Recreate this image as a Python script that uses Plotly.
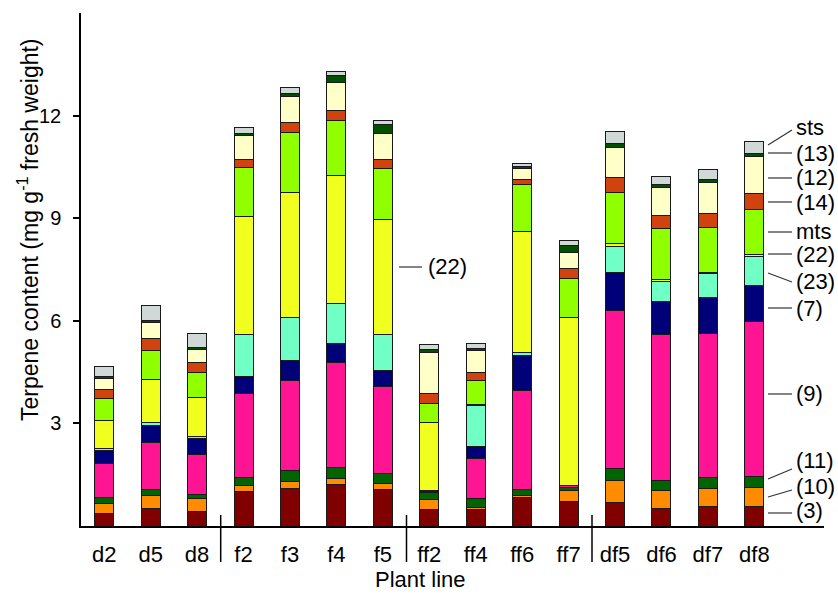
import plotly.graph_objects as go

# ---------------- data ----------------
plant_lines = ["d2", "d5", "d8", "f2", "f3", "f4", "f5",
               "ff2", "ff4", "ff6", "ff7", "df5", "df6", "df7", "df8"]

# Terpene content (mg g-1 fresh weight), stacked bottom -> top
c3  = [0.37, 0.51, 0.43, 1.02, 1.11, 1.20, 1.07, 0.49, 0.47, 0.84, 0.71, 0.68, 0.52, 0.56, 0.56]
c10 = [0.29, 0.39, 0.37, 0.17, 0.19, 0.19, 0.17, 0.29, 0.06, 0.05, 0.33, 0.64, 0.53, 0.54, 0.56]
c11 = [0.18, 0.17, 0.13, 0.24, 0.31, 0.32, 0.30, 0.20, 0.28, 0.18, 0.10, 0.36, 0.29, 0.31, 0.34]
c9  = [0.98, 1.37, 1.16, 2.44, 2.64, 3.07, 2.55, 0.02, 1.17, 2.88, 0.04, 4.61, 4.26, 4.22, 4.53]
c7  = [0.40, 0.51, 0.46, 0.50, 0.59, 0.55, 0.46, 0.04, 0.34, 1.03, 0.01, 1.12, 0.96, 1.05, 1.05]
c23 = [0.04, 0.08, 0.07, 1.22, 1.25, 1.18, 1.05, 0.00, 1.21, 0.09, 0.00, 0.76, 0.60, 0.70, 0.85]
c22 = [0.83, 1.26, 1.14, 3.45, 3.66, 3.73, 3.35, 2.00, 0.02, 3.55, 4.90, 0.08, 0.06, 0.03, 0.06]
mts = [0.63, 0.84, 0.72, 1.43, 1.77, 1.63, 1.49, 0.54, 0.70, 1.36, 1.16, 1.49, 1.49, 1.32, 1.31]
c14 = [0.27, 0.35, 0.30, 0.24, 0.27, 0.28, 0.27, 0.29, 0.23, 0.16, 0.27, 0.44, 0.37, 0.42, 0.45]
c12 = [0.31, 0.47, 0.38, 0.70, 0.76, 0.81, 0.76, 1.20, 0.65, 0.31, 0.47, 0.88, 0.81, 0.89, 1.09]
c13 = [0.08, 0.06, 0.07, 0.07, 0.09, 0.21, 0.27, 0.09, 0.06, 0.06, 0.22, 0.11, 0.09, 0.08, 0.10]
sts = [0.27, 0.44, 0.39, 0.16, 0.18, 0.11, 0.13, 0.15, 0.14, 0.10, 0.13, 0.37, 0.23, 0.31, 0.33]

series_names = ["(3)", "(10)", "(11)", "(9)", "(7)", "(23)", "(22)", "mts", "(14)", "(12)", "(13)", "sts"]
series_values = [c3, c10, c11, c9, c7, c23, c22, mts, c14, c12, c13, sts]
series_colors = ["#800000", "#FF8C00", "#006400", "#FF1493", "#000078", "#70FFC4",
                 "#F0FF1E", "#90FF00", "#D0420E", "#FFFFC8", "#005000", "#D0D8D8"]

y_ticks = [3, 6, 9, 12]

FONT = "Liberation Sans, Arial, Helvetica, sans-serif"

fig = go.Figure()
for name, vals, col in zip(series_names, series_values, series_colors):
    fig.add_trace(go.Bar(
        x=plant_lines, y=vals, name=name, width=0.41,
        marker=dict(color=col, line=dict(color="#1a1a1a", width=1)),
    ))

# plot area in pixels: left 81, right 824, top 13, bottom 526
L, R, T, B = 81, 824, 13, 526
W, H = R - L, B - T


def px(xp):
    return (xp - L) / W


def py(yp):
    return (B - yp) / H


shapes = []
# group separators below axis
for xs in [220.7, 406.5, 592]:
    shapes.append(dict(type="line", xref="paper", yref="paper",
                       x0=px(xs), x1=px(xs), y0=py(515), y1=py(562),
                       line=dict(color="black", width=1.5)))

# right-hand label leader lines (px coords) and labels
labels = [
    ("sts", (768, 145), (792, 130), 127),
    ("(13)", (768, 153), (792, 153), 153),
    ("(12)", (768, 178), (792, 178), 177),
    ("(14)", (768, 202), (792, 202), 202),
    ("mts", (768, 232), (792, 232), 231),
    ("(22)", (768, 254), (792, 254), 254),
    ("(23)", (768, 273), (792, 282), 281),
    ("(7)", (768, 308), (792, 308), 308),
    ("(9)", (768, 394), (792, 394), 393),
    ("(11)", (768, 479), (792, 469), 460),
    ("(10)", (768, 497), (792, 490), 486),
    ("(3)", (768, 513), (792, 513), 510),
]
annotations = []
for text, p0, p1, ty in labels:
    shapes.append(dict(type="line", xref="paper", yref="paper",
                       x0=px(p0[0]), y0=py(p0[1]), x1=px(p1[0]), y1=py(p1[1]),
                       line=dict(color="#333333", width=1.2)))
    annotations.append(dict(text=text, xref="paper", yref="paper",
                            x=px(794), y=py(ty), xanchor="left", yanchor="middle",
                            showarrow=False, font=dict(size=22, color="black", family=FONT)))

# middle (22) label
shapes.append(dict(type="line", xref="paper", yref="paper",
                   x0=px(399), x1=px(422), y0=py(267), y1=py(267),
                   line=dict(color="#333333", width=1.2)))
annotations.append(dict(text="(22)", xref="paper", yref="paper",
                        x=px(426), y=py(266), xanchor="left", yanchor="middle",
                        showarrow=False, font=dict(size=22, color="black", family=FONT)))

# axis titles
annotations.append(dict(text="Terpene content (mg g<sup>-1</sup> fresh weight)",
                        xref="paper", yref="paper", x=px(28), y=py(230),
                        xanchor="center", yanchor="middle", textangle=-90,
                        showarrow=False, font=dict(size=23, color="black", family=FONT)))
annotations.append(dict(text="Plant line", xref="paper", yref="paper",
                        x=px(420), y=py(580), xanchor="center", yanchor="middle",
                        showarrow=False, font=dict(size=22, color="black", family=FONT)))

fig.update_layout(
    barmode="stack",
    width=838, height=594,
    margin=dict(l=L, r=838 - R, t=T, b=594 - B, pad=0),
    paper_bgcolor="white", plot_bgcolor="white",
    showlegend=False,
    shapes=shapes,
    annotations=annotations,
    font=dict(family=FONT, color="black"),
    xaxis=dict(
        type="category", categoryorder="array", categoryarray=plant_lines,
        range=[-0.5, 15.5], showline=True, linecolor="black", linewidth=1.5,
        ticks="", showgrid=False, zeroline=False,
        tickfont=dict(size=22, color="black", family=FONT),
        ticklabelstandoff=8,
    ),
    yaxis=dict(
        range=[0, 15], tickvals=y_ticks, ticktext=[str(v) for v in y_ticks],
        showline=True, linecolor="black", linewidth=1.5,
        ticks="outside", ticklen=6, tickwidth=1.5, tickcolor="black",
        showgrid=False, zeroline=False,
        tickfont=dict(size=20, color="black", family=FONT),
        ticklabelstandoff=8,
    ),
)

fig.write_html(
    "out.html",
    config={"displayModeBar": False},
    post_script="document.body.style.margin='0';document.body.style.padding='0';document.body.style.overflow='hidden';",
)
